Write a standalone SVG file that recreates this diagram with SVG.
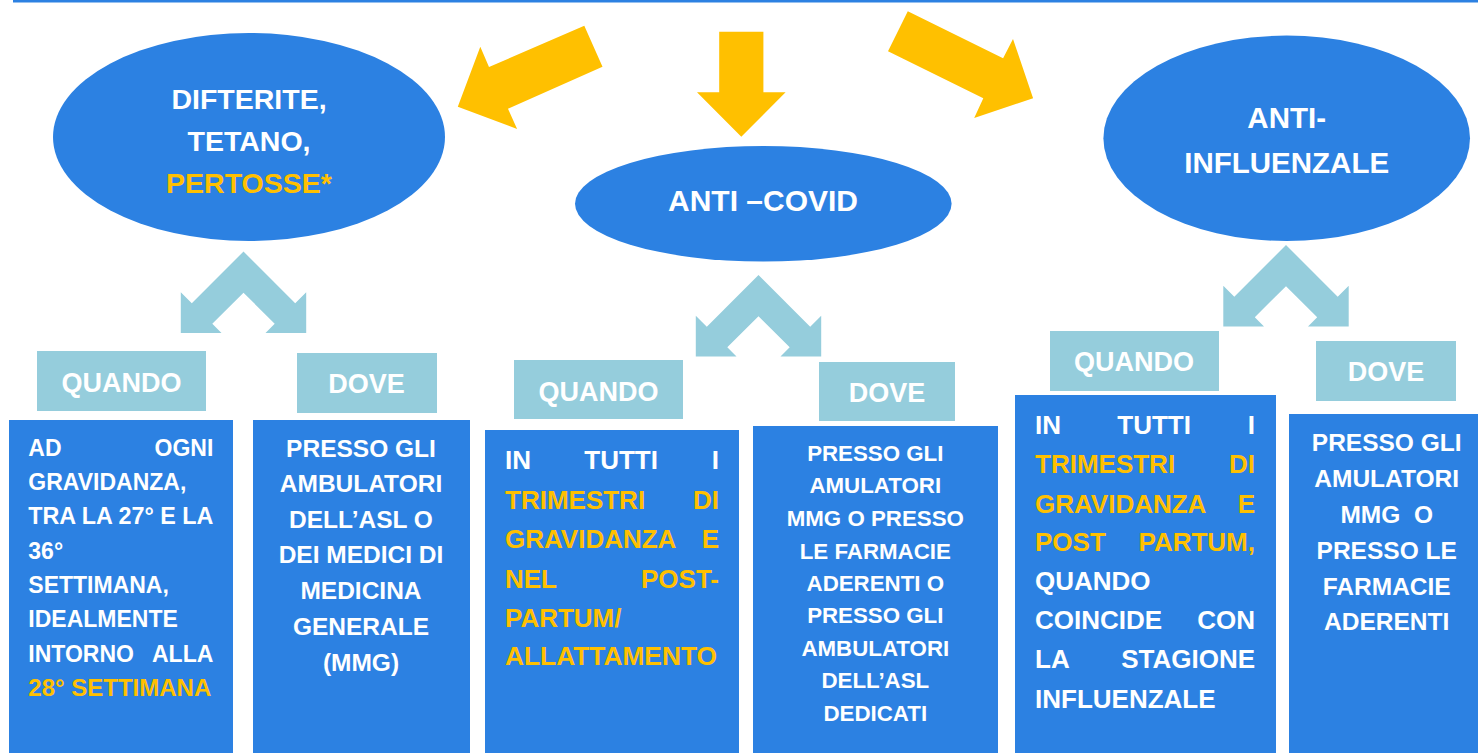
<svg xmlns="http://www.w3.org/2000/svg" width="1478" height="753" viewBox="0 0 1478 753">
<style>
.blue{fill:#2C81E2}
.lb{fill:#95CDDC}
.yel{fill:#FFC000}
text{font-family:"Liberation Sans",Arial,sans-serif;font-weight:bold;fill:#FFFFFF}
.y{fill:#FFC000}
.c{text-anchor:middle}
.e{text-anchor:end}
.lab{font-size:27px;text-anchor:middle}
.pre{white-space:pre}
</style>
<defs>
<polygon id="chev" points="0,0 51.7,51.7 62.7,40.7 62.7,81.4 22,81.4 31.2,72.2 0,41.2 -31.2,72.2 -22,81.4 -62.7,81.4 -62.7,40.7 -51.7,51.7"/>
</defs>
<rect x="13" y="0" width="1465" height="2.5" class="blue"/>

<g id="connectors">
<polygon class="yel" points="457.8,106.7 480.3,46.7 489,67 584.3,25.7 602.5,66.7 508,108.7 517.1,129"/>
<polygon class="yel" points="719.2,31.7 763.4,31.7 763.4,92.3 785.6,92.3 741.3,136.7 697,92.3 719.2,92.3"/>
<polygon class="yel" points="907.8,11.3 1003.1,58.3 1013,39 1033.1,98.3 974.2,118 983.3,98.3 888,51.3"/>
<use href="#chev" class="lb" x="243.5" y="251.5"/>
<use href="#chev" class="lb" x="758.5" y="275"/>
<use href="#chev" class="lb" x="1286" y="245"/>
</g>

<g id="node-dtp">
<ellipse cx="249" cy="137" rx="196" ry="104" class="blue"/>
<text x="249" y="109" class="c" font-size="28.5">DIFTERITE,</text>
<text x="249" y="151" class="c" font-size="28.5">TETANO,</text>
<text x="249" y="192.7" class="c y" font-size="28.5">PERTOSSE*</text>
</g>
<g id="node-covid">
<ellipse cx="763.3" cy="203.8" rx="188.3" ry="57.8" class="blue"/>
<text x="763" y="210.7" class="c" font-size="30">ANTI –COVID</text>
</g>
<g id="node-influenza">
<ellipse cx="1286.7" cy="138.3" rx="183.3" ry="102.7" class="blue"/>
<text x="1286.7" y="128.3" class="c" font-size="29.5">ANTI-</text>
<text x="1286.7" y="173.3" class="c" font-size="29.5">INFLUENZALE</text>
</g>

<g id="label-quando-1">
<rect x="37" y="351" width="169" height="60" class="lb"/>
<text x="121.5" y="391.5" class="lab">QUANDO</text>
</g>
<g id="label-dove-1">
<rect x="297" y="353" width="140" height="60" class="lb"/>
<text x="366.5" y="393" class="lab">DOVE</text>
</g>
<g id="label-quando-2">
<rect x="514" y="360" width="169" height="59" class="lb"/>
<text x="598.5" y="400.7" class="lab">QUANDO</text>
</g>
<g id="label-dove-2">
<rect x="819" y="362" width="136" height="59" class="lb"/>
<text x="887" y="401.7" class="lab">DOVE</text>
</g>
<g id="label-quando-3">
<rect x="1050" y="331" width="169" height="60" class="lb"/>
<text x="1134" y="370.7" class="lab">QUANDO</text>
</g>
<g id="label-dove-3">
<rect x="1316" y="341" width="140" height="60" class="lb"/>
<text x="1386" y="380.7" class="lab">DOVE</text>
</g>

<g id="box-quando-1" font-size="23">
<rect x="9" y="420" width="224" height="333" class="blue"/>
<text x="28.3" y="455.7">AD</text>
<text x="213.3" y="455.7" class="e">OGNI</text>
<text x="28.3" y="490">GRAVIDANZA,</text>
<text x="28.3" y="524.3" textLength="185" lengthAdjust="spacingAndGlyphs">TRA LA 27° E LA</text>
<text x="28.3" y="558.6">36°</text>
<text x="28.3" y="593">SETTIMANA,</text>
<text x="28.3" y="627.3">IDEALMENTE</text>
<text x="28.3" y="661.6">INTORNO</text>
<text x="213.3" y="661.6" class="e">ALLA</text>
<text x="28.3" y="695.9" class="y" textLength="183" lengthAdjust="spacingAndGlyphs">28° SETTIMANA</text>
</g>
<g id="box-dove-1" font-size="24.5">
<rect x="253" y="420" width="217" height="333" class="blue"/>
<text x="361" y="456.7" class="c">PRESSO GLI</text>
<text x="361" y="492.3" class="c">AMBULATORI</text>
<text x="361" y="528.3" class="c">DELL’ASL O</text>
<text x="361" y="563.3" class="c">DEI MEDICI DI</text>
<text x="361" y="599.3" class="c">MEDICINA</text>
<text x="361" y="635" class="c">GENERALE</text>
<text x="361" y="670.7" class="c">(MMG)</text>
</g>

<g id="box-quando-2" font-size="26">
<rect x="485" y="430" width="254" height="323" class="blue"/>
<text x="505" y="469.3">IN</text>
<text x="584.3" y="469.3">TUTTI</text>
<text x="719" y="469.3" class="e">I</text>
<text x="505" y="509" class="y">TRIMESTRI</text>
<text x="719" y="509" class="e y">DI</text>
<text x="505" y="547.7" class="y">GRAVIDANZA</text>
<text x="719" y="547.7" class="e y">E</text>
<text x="505" y="587.7" class="y">NEL</text>
<text x="719" y="587.7" class="e y">POST-</text>
<text x="505" y="626.7" class="y">PARTUM/</text>
<text x="505" y="665" class="y" textLength="212" lengthAdjust="spacingAndGlyphs">ALLATTAMENTO</text>
</g>
<g id="box-dove-2" font-size="22.3">
<rect x="753" y="426" width="245" height="327" class="blue"/>
<text x="875.3" y="461" class="c">PRESSO GLI</text>
<text x="875.3" y="493.3" class="c">AMULATORI</text>
<text x="875.3" y="526" class="c">MMG O PRESSO</text>
<text x="875.3" y="558.7" class="c">LE FARMACIE</text>
<text x="875.3" y="591" class="c">ADERENTI O</text>
<text x="875.3" y="623.3" class="c">PRESSO GLI</text>
<text x="875.3" y="656" class="c">AMBULATORI</text>
<text x="875.3" y="688.3" class="c">DELL’ASL</text>
<text x="875.3" y="721" class="c">DEDICATI</text>
</g>

<g id="box-quando-3" font-size="26">
<rect x="1015" y="395" width="261" height="358" class="blue"/>
<text x="1035" y="434.3">IN</text>
<text x="1117.3" y="434.3">TUTTI</text>
<text x="1255" y="434.3" class="e">I</text>
<text x="1035" y="473.3" class="y">TRIMESTRI</text>
<text x="1255" y="473.3" class="e y">DI</text>
<text x="1035" y="512.7" class="y">GRAVIDANZA</text>
<text x="1255" y="512.7" class="e y">E</text>
<text x="1035" y="551" class="y">POST</text>
<text x="1255" y="551" class="e y">PARTUM,</text>
<text x="1035" y="590">QUANDO</text>
<text x="1035" y="629">COINCIDE</text>
<text x="1255" y="629" class="e">CON</text>
<text x="1035" y="668.3">LA</text>
<text x="1255" y="668.3" class="e">STAGIONE</text>
<text x="1035" y="707.7">INFLUENZALE</text>
</g>
<g id="box-dove-3" font-size="24.5">
<rect x="1289" y="414" width="189" height="339" class="blue"/>
<text x="1386.7" y="451" class="c">PRESSO GLI</text>
<text x="1386.7" y="487.3" class="c">AMULATORI</text>
<text x="1386.7" y="523.3" class="c pre">MMG  O</text>
<text x="1386.7" y="559.3" class="c">PRESSO LE</text>
<text x="1386.7" y="595" class="c">FARMACIE</text>
<text x="1386.7" y="630" class="c">ADERENTI</text>
</g>
</svg>
